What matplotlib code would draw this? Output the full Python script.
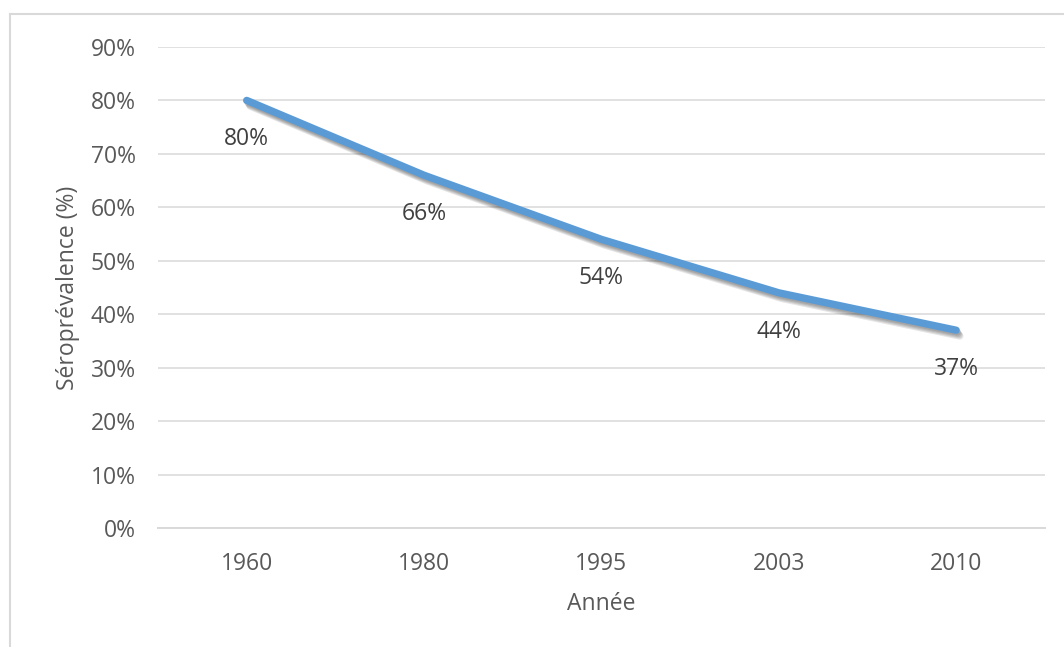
import matplotlib.pyplot as plt
import matplotlib.patheffects as pe
from matplotlib.lines import Line2D

# data
years = ['1960', '1980', '1995', '2003', '2010']
seroprev = [80, 66, 54, 44, 37]
y_ticks = [0, 10, 20, 30, 40, 50, 60, 70, 80, 90]

grey_text = '#595959'
grid_col = '#d9d9d9'
line_col = '#5b9bd5'

plt.rcParams['font.family'] = ['Open Sans', 'DejaVu Sans']

fig = plt.figure(figsize=(10.64, 6.47), dpi=100)
ax = fig.add_axes([0.1485, 0.184, 0.8335, 0.7434])

x = list(range(len(years)))
# soft drop shadow like Excel
shadow = [pe.SimpleLineShadow(offset=(o, -o * 1.6), shadow_color='black', alpha=0.1)
          for o in (0.8, 1.4, 2.0, 2.6)]
ax.plot(x, seroprev, color=line_col, lw=5.3, solid_capstyle='round',
        path_effects=shadow + [pe.Normal()], zorder=3)

# data labels under the points
for xi, v in zip(x, seroprev):
    ax.annotate(f'{v}%', (xi, v), xytext=(0, -28), textcoords='offset points',
                ha='center', va='center', fontsize=16.5, color='#404040', zorder=4)

ax.set_xlim(-0.5, len(years) - 0.5)
ax.set_ylim(0, 90)
ax.set_xticks(x)
ax.set_xticklabels(years)
ax.set_yticks(y_ticks)
ax.set_yticklabels([f'{t}%' for t in y_ticks])
ax.tick_params(length=0, labelsize=16.5, colors=grey_text)
ax.tick_params(axis='x', pad=17)
ax.tick_params(axis='y', pad=16)

ax.grid(axis='y', color=grid_col, lw=1.1)
ax.set_axisbelow(True)
for s in ['top', 'right', 'left']:
    ax.spines[s].set_visible(False)
ax.spines['bottom'].set_color(grid_col)
ax.spines['bottom'].set_linewidth(1.4)

ax.set_xlabel('Année', fontsize=16.5, color=grey_text, labelpad=12)
ax.set_ylabel('Séroprévalence (%)', fontsize=16.5, color=grey_text, labelpad=8)

# chart area border (top and left edges visible)
fig.add_artist(Line2D([10 / 1064, 1], [1 - 14 / 647, 1 - 14 / 647], color='#d9d9d9', lw=1.5))
fig.add_artist(Line2D([10 / 1064, 10 / 1064], [0, 1 - 14 / 647], color='#d9d9d9', lw=1.5))

fig.savefig('out.png', dpi=100)
